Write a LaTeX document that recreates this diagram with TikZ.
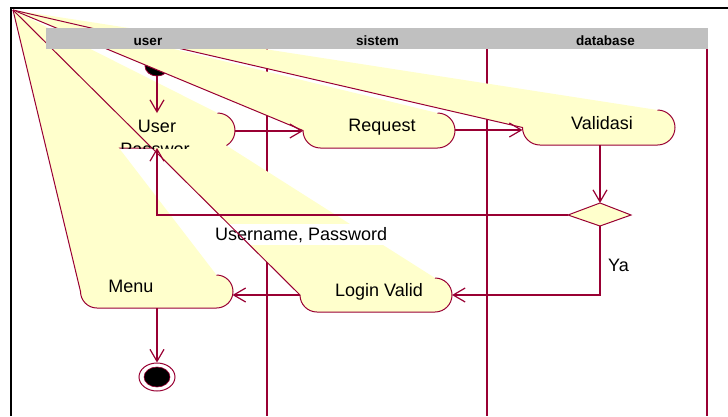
\documentclass[tikz,border=0pt]{standalone}
\usepackage{fontspec}
\setmainfont{Liberation Sans}
\usetikzlibrary{arrows.meta,shapes.geometric}
\definecolor{roseline}{RGB}{153,0,51}
\definecolor{rosefill}{RGB}{255,255,204}
\definecolor{lanehead}{RGB}{192,192,192}
\tikzset{
  lane/.style={draw=roseline, line width=1.5pt},
  fanfill/.style={fill=rosefill},
  fanline/.style={draw=roseline, line width=1pt},
  flow/.style={draw=roseline, line width=1.2pt, -{Straight Barb[length=12pt,width=14pt,line width=1.2pt]}},
  acttext/.style={font=\fontsize{18}{21}\selectfont, inner sep=0pt, text=black},
  headtext/.style={font=\fontsize{13.5}{16}\selectfont\bfseries, inner sep=0pt, text=black},
}
% outline of an activity, starting at the top-right corner and ending at the left end
\newcommand\useroutline{(217.5,113) .. controls (227.17,113) and (235,120.83) .. (235,130.5) .. controls (235,140.17) and (227.17,148) .. (217.5,148) -- (96.5,148) .. controls (86.83,148) and (79,140.17) .. (79,130.5)}
\newcommand\reqoutline{(437.5,113) .. controls (447.17,113) and (455,120.83) .. (455,130.5) .. controls (455,140.17) and (447.17,148) .. (437.5,148) -- (320.5,148) .. controls (310.83,148) and (303,140.17) .. (303,130.5)}
\newcommand\valoutline{(657.5,110) .. controls (667.17,110) and (675,117.83) .. (675,127.5) .. controls (675,137.17) and (667.17,145) .. (657.5,145) -- (540,145) .. controls (530.33,145) and (522.5,137.17) .. (522.5,127.5)}
\newcommand\lvoutline{(435,278) .. controls (444.39,278) and (452,285.61) .. (452,295) .. controls (452,304.39) and (444.39,312) .. (435,312) -- (317,312) .. controls (307.61,312) and (300,304.39) .. (300,295)}
\newcommand\menuoutline{(216.5,275) .. controls (225.61,275) and (233,282.39) .. (233,291.5) .. controls (233,300.61) and (225.61,308) .. (216.5,308) -- (97,308) .. controls (87.89,308) and (80.5,300.61) .. (80.5,291.5)}
\begin{document}
\begin{tikzpicture}[x=1pt, y=-1pt]
\useasboundingbox (0,0) rectangle (728,416);
\coordinate (origin) at (13,10);

% swimlane separators
\draw[lane] (267,49) -- (267,416);
\draw[lane] (487,49) -- (487,416);
\draw[lane] (707,49) -- (707,416);

% initial state
\node[ellipse, fill=black, draw=roseline, line width=0.8pt, minimum width=24pt, minimum height=20pt, inner sep=0pt] (start) at (157,66) {};

% activities
\fill[fanfill] (origin) -- \useroutline -- cycle;
\draw[fanline] \useroutline -- (origin);
\fill[fanfill] (origin) -- \reqoutline -- cycle;
\draw[fanline] \reqoutline -- (origin);
\fill[fanfill] (origin) -- \valoutline -- cycle;
\draw[fanline] \valoutline -- (origin);
\fill[fanfill] (origin) -- \menuoutline -- cycle;
\draw[fanline] \menuoutline -- (origin);
\fill[fanfill] (origin) -- \lvoutline -- cycle;
\node[acttext, anchor=base west, fill=white, inner xsep=2pt, inner ysep=3pt] (tCred) at (213,240) {Username, Password};
\draw[fanline] \lvoutline -- (origin);

% connection points of the activities
\coordinate (userN) at (157,113);
\coordinate (userE) at (235,131);
\coordinate (userS) at (157,148);
\coordinate (reqW) at (303,131);
\coordinate (reqE) at (455,130);
\coordinate (valW) at (522.5,130);
\coordinate (valS) at (600,145);
\coordinate (lvE) at (452,295);
\coordinate (lvW) at (300,295);
\coordinate (menuE) at (232.5,295);
\coordinate (menuS) at (157,308);

% decision
\coordinate (dN) at (600,203);
\coordinate (dE) at (631,215);
\coordinate (dS) at (600,226);
\coordinate (dW) at (568,215);
\filldraw[fill=rosefill, draw=roseline, line width=1pt] (dN) -- (dE) -- (dS) -- (dW) -- cycle;

% final state
\node[ellipse, fill=white, draw=roseline, line width=1pt, minimum width=36pt, minimum height=28pt, inner sep=0pt] (final) at (157,377) {};
\node[ellipse, fill=black, draw=roseline, line width=0.6pt, minimum width=26pt, minimum height=20pt, inner sep=0pt] (finalcore) at (final) {};

% transitions
\draw[flow] (start.south) -- (userN);
\draw[flow] (userE) -- (reqW);
\draw[flow] (reqE) -- (valW);
\draw[flow] (valS) -- (dN);
\draw[flow] (dW) -| (userS);
\draw[flow] (dS) |- (lvE);
\draw[flow] (lvW) -- (menuE);
\draw[flow] (menuS) -- (final.north);

% lane headers
\fill[lanehead] (46,28) rectangle (708,49);
\node[headtext, anchor=base] (hUser) at (148,45.5) {user};
\node[headtext, anchor=base] (hSys) at (377.5,45.5) {sistem};
\node[headtext, anchor=base] (hDb) at (605.5,45.5) {database};

% activity texts
\node[acttext, anchor=base] (tUser) at (157,132) {User};
\begin{scope}
  \clip (79,100) rectangle (235,148);
  \node[acttext, anchor=base] (tPass) at (155,155.5) {Passwor};
\end{scope}
\node[acttext, anchor=base] (tReq) at (382,131.5) {Request};
\node[acttext, anchor=base] (tVal) at (602,129.5) {Validasi};
\node[acttext, anchor=base] (tLv) at (379,296.5) {Login Valid};
\node[acttext, anchor=base] (tMenu) at (131,292.5) {Menu};
\node[acttext, anchor=base west] (tYa) at (608,271) {Ya};

% frame
\draw[black, line width=2.2pt] (11.3,416) -- (11.3,8.3) -- (728,8.3);
\end{tikzpicture}
\end{document}
